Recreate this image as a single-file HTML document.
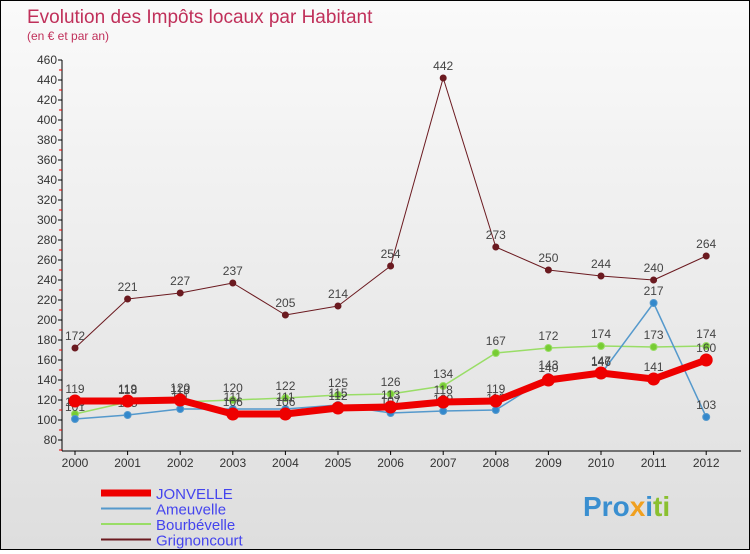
<!DOCTYPE html>
<html><head><meta charset="utf-8"><style>
body{margin:0;width:750px;height:550px;overflow:hidden;font-family:"Liberation Sans",sans-serif;}
#wrap{position:relative;width:748px;height:548px;border:1px solid #000;background:linear-gradient(#fafafa,#dedede);}
</style></head><body>
<div id="wrap">
<svg id="chart" width="748" height="548" xmlns="http://www.w3.org/2000/svg">
<text x="26" y="22" font-size="19" fill="#c0305a">Evolution des Impôts locaux par Habitant</text>
<text x="26" y="39" font-size="12" fill="#c0305a">(en € et par an)</text>
<g id="axes"></g><g id="series"></g><g id="legend"></g>
<text x="582" y="515" font-size="28" font-weight="bold" fill="#3a8fd0">Pro<tspan fill="#f0a020">x</tspan><tspan fill="#3a8fd0">i</tspan><tspan fill="#8ac030">ti</tspan></text>
</svg></div>
<script>
const years=[2000,2001,2002,2003,2004,2005,2006,2007,2008,2009,2010,2011,2012];
const yTicks=[80,100,120,140,160,180,200,220,240,260,280,300,320,340,360,380,400,420,440,460];
const jonvelle=[119,119,120,106,106,112,113,118,119,140,147,141,160];
const ameuvelle=[101,105,111,111,111,115,107,109,110,143,146,217,103];
const bourbevelle=[106,118,118,120,122,125,126,134,167,172,174,173,174];
const grignoncourt=[172,221,227,237,205,214,254,442,273,250,244,240,264];
const NS="http://www.w3.org/2000/svg";
const xS=i=>74+i*52.6;
const yS=v=>439-(v-80);
function mk(tag,attrs,parent){const e=document.createElementNS(NS,tag);for(const k in attrs)e.setAttribute(k,attrs[k]);parent.appendChild(e);return e;}
const ax=document.getElementById('axes');
let a=mk('line',{x1:61,y1:59,x2:61,y2:450,stroke:'#000'},ax);


a=mk('line',{x1:61,y1:450,x2:740,y2:450,stroke:'#000'},ax);


yTicks.forEach(v=>{
 mk('line',{x1:57,x2:61,y1:yS(v),y2:yS(v),stroke:'#000'},ax);
 mk('line',{x1:58,x2:61,y1:yS(v)+10,y2:yS(v)+10,stroke:'#e00'},ax);
 const t=mk('text',{x:56,y:yS(v)+4,'font-size':12,'text-anchor':'end',fill:'#333'},ax);t.textContent=v;
 
 
});
years.forEach((y,i)=>{
 mk('line',{x1:xS(i),x2:xS(i),y1:450,y2:454,stroke:'#000'},ax);
 const t=mk('text',{x:xS(i),y:466,'font-size':12,'text-anchor':'middle',fill:'#333'},ax);t.textContent=y;
 
 
});
const sg=document.getElementById('series');
function series(vals,color,w,r,name,fill){
 const g=mk('g',{},sg);
 
 
 mk('polyline',{points:vals.map((v,i)=>xS(i)+','+yS(v)).join(' '),fill:'none',stroke:color,'stroke-width':w,'stroke-linejoin':'round'},g);
 vals.forEach((v,i)=>{
  const c=mk('circle',{cx:xS(i),cy:yS(v),r:r,fill:fill,stroke:color,'stroke-width':1},g);
  
  
  const t=mk('text',{x:xS(i),y:yS(v)-8,'font-size':12,'text-anchor':'middle',fill:'#444'},g);t.textContent=v;
 });
}
series(grignoncourt,'#6b1a20',1,3,'grignoncourt','#6b1a20');
series(bourbevelle,'#99dd66',1.5,3.5,'bourbevelle','#77cc33');
series(ameuvelle,'#5599cc',1.5,3.5,'ameuvelle','#3388cc');
series(jonvelle,'#ee0000',7,6,'jonvelle','#ee0000');
const lg=document.getElementById('legend');
[['JONVELLE','#ee0000',7],['Ameuvelle','#5599cc',2],['Bourbévelle','#99dd66',2],['Grignoncourt','#6b1a20',2]].forEach((d,i)=>{
 const y=492+i*15.5;
 const g=mk('g',{},lg);
 
 
 mk('line',{x1:100,x2:150,y1:y,y2:y,stroke:d[1],'stroke-width':d[2]},g);
 const t=mk('text',{x:155,y:y+6,'font-size':15,fill:'#4444ee'},g);t.textContent=d[0];
});
</script>
</body></html>
